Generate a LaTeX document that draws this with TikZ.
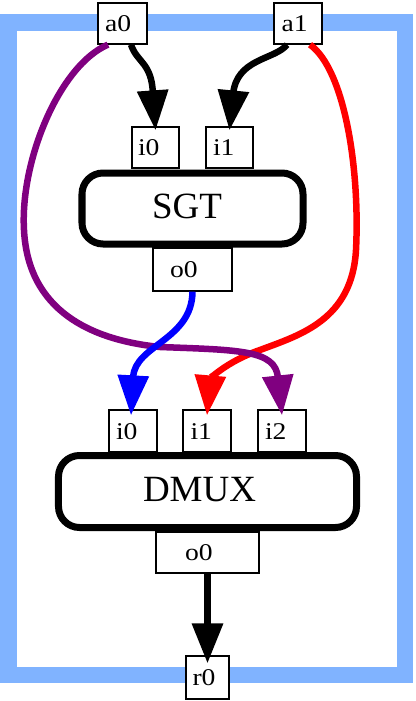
\documentclass[tikz,border=0pt]{standalone}
\usepackage{fontspec}
\setmainfont{Liberation Serif}
\newfontfamily\portfont[FakeStretch=1.15]{Liberation Serif}
\usetikzlibrary{arrows.meta}
\definecolor{framecol}{RGB}{128,179,255}
\definecolor{purp}{RGB}{128,0,128}
\newcommand{\padtxt}[3]{\makebox[#1bp][l]{\hspace*{#2bp}#3}}
\begin{document}
\begin{tikzpicture}[x=1bp,y=-1bp,
  port/.style={draw, line width=1.3bp, fill=white, font=\portfont\fontsize{24bp}{28bp}\selectfont,
    inner sep=0pt, minimum height=41bp, text height=16.3bp, text depth=0pt},
  body/.style={draw, line width=7bp, rounded corners=21bp, fill=white,
    font=\fontsize{37bp}{42bp}\selectfont, inner sep=0pt,
    text height=24.4bp, text depth=4.8bp},
  wire/.style={line width=6.5bp, -{Triangle[length=40bp,width=30bp]}},
]
\useasboundingbox (0,0) rectangle (415,701);
\draw[framecol, line width=16.5bp] (8.5,22.5) rectangle (405,675);

% SGT
\node[body, minimum height=71bp] (sgt) at (192.5,208.5) {\padtxt{221}{70}{SGT}};
\node[port] (si0) at (155.5,147.5) {\padtxt{47}{6}{i0}};
\node[port] (si1) at (229.5,147.5) {\padtxt{47}{7}{i1}};
\node[port, minimum height=43bp] (so0) at (192.5,269.5) {\padtxt{79}{17}{o0}};

% DMUX
\node[body, minimum height=72bp] (dmux) at (207.5,491.5) {\padtxt{298}{84.5}{DMUX}};
\node[port, minimum height=42bp] (di0) at (133,431) {\padtxt{48}{7}{i0}};
\node[port, minimum height=42bp] (di1) at (207,431) {\padtxt{48}{7.5}{i1}};
\node[port, minimum height=42bp] (di2) at (282,431) {\padtxt{48}{7}{i2}};
\node[port] (do0) at (207.5,552.5) {\padtxt{103}{29}{o0}};

% outer ports
\node[port] (a0) at (122.5,23.5) {\padtxt{49}{7}{a0}};
\node[port] (a1) at (298,23.5) {\padtxt{48}{7.5}{a1}};
\node[port, minimum height=43bp] (r0) at (207.5,677.5) {\padtxt{43}{6.5}{r0}};

% wires
\draw[wire] ([xshift=8.5bp]a0.south) .. controls (137,63) and (152,62) .. (153,95) -- ([yshift=-4bp]si0.north);
\draw[wire] ([xshift=-11bp]a1.south) .. controls (275,60) and (236,58) .. (233,95) -- ([yshift=-4bp]si1.north);
\draw[wire, red] ([xshift=12bp]a1.south) .. controls (345,70) and (360,170) .. (356,250)
  .. controls (352,320) and (300,335) .. (260,350) .. controls (225,362) and (210,380) .. ([yshift=-6bp]di1.north);
\draw[wire, purp] ([xshift=-14.5bp]a0.south) .. controls (60,65) and (20,160) .. (24,230)
  .. controls (28,310) and (90,340) .. (160,347) .. controls (240,350) and (275,350) .. ([yshift=-6bp]di2.north);
\draw[wire, blue] (so0.south) .. controls (192,340) and (135,345) .. ([xshift=-2bp,yshift=-6bp]di0.north);
\draw[wire] (do0.south) -- ([yshift=-8bp]r0.north);
\end{tikzpicture}
\end{document}
